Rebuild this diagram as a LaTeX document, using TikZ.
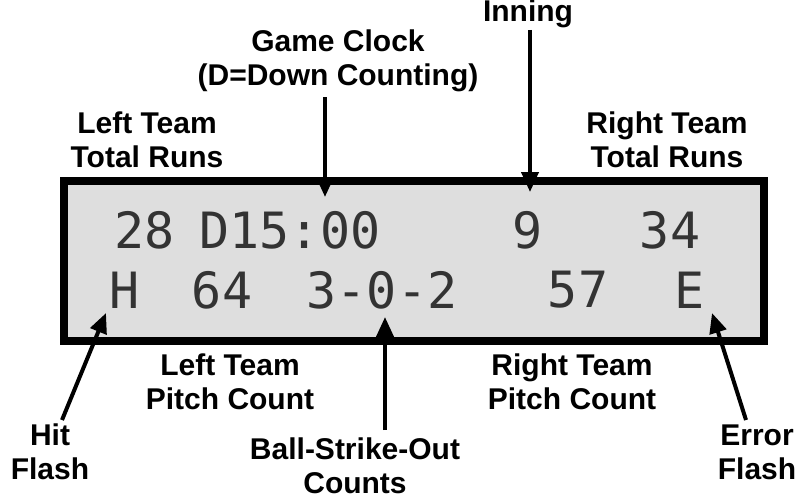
\documentclass[tikz,border=0pt]{standalone}
\usepackage{fontspec}
\setmainfont{Liberation Sans}
\newfontfamily\lcdfont{DejaVu Sans Mono}
\usetikzlibrary{arrows.meta}
\begin{document}
\begin{tikzpicture}[
    x=1pt, y=-1pt,
    lbl/.style={font=\fontsize{30}{34}\selectfont\bfseries, inner sep=0, align=center},
    lcd/.style={font=\fontsize{50}{50}\lcdfont, text=black!80, inner sep=0},
    pointer/.style={line width=4pt, -{Triangle[length=20pt, width=17pt]}}]
\useasboundingbox (0,0) rectangle (800,503);
% display
\draw[line width=8pt, fill=black!13] (64,181) rectangle (764,341);
\node[lcd] (runsL) at (145,230) {28};
\node[lcd] (clock) at (290,230) {D15:00};
\node[lcd] (inn)   at (528,230) {9};
\node[lcd] (runsR) at (670,230) {34};
\node[lcd] (hit)   at (125,290) {H};
\node[lcd] (pitL)  at (222,290) {64};
\node[lcd] (bso)   at (382,290) {3-0-2};
\node[lcd] (pitR)  at (578,290) {57};
\node[lcd] (err)   at (690,290) {E};
% labels
\node[lbl] (innLbl)   at (528,14)  {Inning};
\node[lbl] (clockLbl) at (338,61)  {Game Clock\\(D=Down Counting)};
\node[lbl] (runsLLbl) at (147,140) {Left Team\\Total Runs};
\node[lbl] (runsRLbl) at (667,140) {Right Team\\Total Runs};
\node[lbl] (pitLLbl)  at (230,382) {Left Team\\Pitch Count};
\node[lbl] (pitRLbl)  at (572,382) {Right Team\\Pitch Count};
\node[lbl] (hitLbl)   at (50,452)  {Hit\\Flash};
\node[lbl] (bsoLbl)   at (355,466) {Ball-Strike-Out\\Counts};
\node[lbl] (errLbl)   at (757,452) {Error\\Flash};
% pointers
\coordinate (clockTail) at (325,97);  \coordinate (clockTip) at (325,197);
\coordinate (innTail)   at (530,30);  \coordinate (innTip)   at (530,192);
\coordinate (hitTail)   at (62,420);  \coordinate (hitTip)   at (106,313);
\coordinate (bsoTail)   at (385,430); \coordinate (bsoTip)   at (385,317);
\coordinate (errTail)   at (746,420); \coordinate (errTip)   at (712,313);
\draw[pointer] (clockTail) -- (clockTip);
\draw[pointer] (innTail) -- (innTip);
\draw[pointer] (hitTail) -- (hitTip);
\draw[pointer] (bsoTail) -- (bsoTip);
\draw[pointer] (errTail) -- (errTip);
\end{tikzpicture}
\end{document}
